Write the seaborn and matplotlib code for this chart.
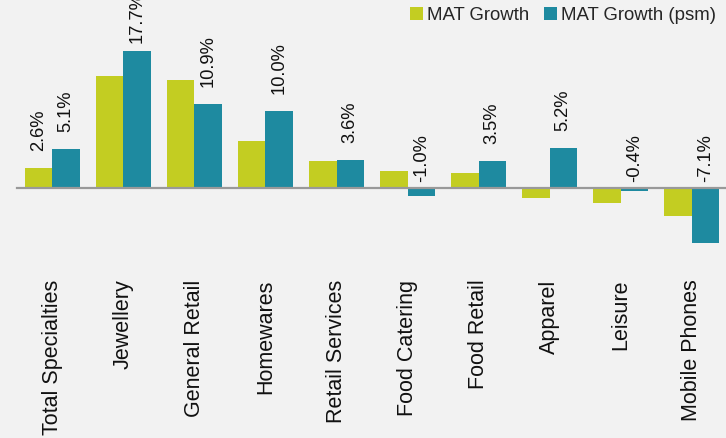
import pandas as pd
import numpy as np
import matplotlib.pyplot as plt
import seaborn as sns

# datos
categorias = ['Total Specialties', 'Jewellery', 'General Retail', 'Homewares',
              'Retail Services', 'Food Catering', 'Food Retail', 'Apparel',
              'Leisure', 'Mobile Phones']
mat_growth = [2.6, 14.5, 14.0, 6.1, 3.5, 2.2, 1.9, -1.3, -2.0, -3.6]
mat_growth_psm = [5.1, 17.7, 10.9, 10.0, 3.6, -1.0, 3.5, 5.2, -0.4, -7.1]
series = ['MAT Growth', 'MAT Growth (psm)']
colores = ['#C3CD22', '#1E8AA0']

df = pd.DataFrame({
    'categoria': categorias * 2,
    'serie': [series[0]] * len(categorias) + [series[1]] * len(categorias),
    'valor': mat_growth + mat_growth_psm,
})

sns.set_style('white')
plt.rcParams['font.family'] = ['Liberation Sans', 'DejaVu Sans']

fig = plt.figure(figsize=(7.26, 4.38), dpi=100, facecolor='#F2F2F2')
ax = fig.add_axes([0.0234, 0.372, 0.978, 0.628])
ax.set_facecolor('#F2F2F2')

sns.barplot(data=df, x='categoria', y='valor', hue='serie', palette=colores,
            width=0.775, gap=0, saturation=1, errorbar=None, linewidth=0, ax=ax)

ax.set_ylim(-11.25, 24.3)
ax.set_xlim(-0.5, len(categorias) - 0.5)
ax.set_xlabel('')
ax.set_ylabel('')
ax.set_yticks([])

# eje de categorías en el cero
for lado in ['left', 'right', 'top']:
    ax.spines[lado].set_visible(False)
ax.spines['bottom'].set_position(('data', 0))
ax.spines['bottom'].set_color('#999999')
ax.spines['bottom'].set_linewidth(1.6)
ax.set_xticks(np.arange(-0.5, len(categorias), 1), minor=True)
ax.tick_params(axis='x', which='minor', length=5, width=1.2, color='#999999', direction='out')
ax.tick_params(axis='x', which='major', length=0, pad=66, labelsize=15.5, labelcolor='#111111')
plt.setp(ax.get_xticklabels(), rotation=90, va='top', ha='center')

# etiquetas de datos
x = np.arange(len(categorias))
desp = 0.775 / 4
for i, v in enumerate(mat_growth_psm):
    off = 6 if v > 15 else 12
    ax.annotate(f'{v:.1f}%', xy=(x[i] + desp, max(v, 0)), xytext=(0, off if v > 0 else 4),
                textcoords='offset points', rotation=90, ha='center', va='bottom',
                fontsize=13.2, color='#111111', annotation_clip=False)
ax.annotate(f'{mat_growth[0]:.1f}%', xy=(x[0] - desp, mat_growth[0]), xytext=(0, 12),
            textcoords='offset points', rotation=90, ha='center', va='bottom',
            fontsize=13.2, color='#111111')

leg = ax.legend(loc='upper right', bbox_to_anchor=(1.0, 1.015), ncol=2, frameon=False,
                fontsize=13.4, handlelength=0.7, handleheight=0.7, handletextpad=0.2,
                columnspacing=0.8, borderaxespad=0.2)

fig.savefig('out.png', dpi=100, facecolor=fig.get_facecolor())
